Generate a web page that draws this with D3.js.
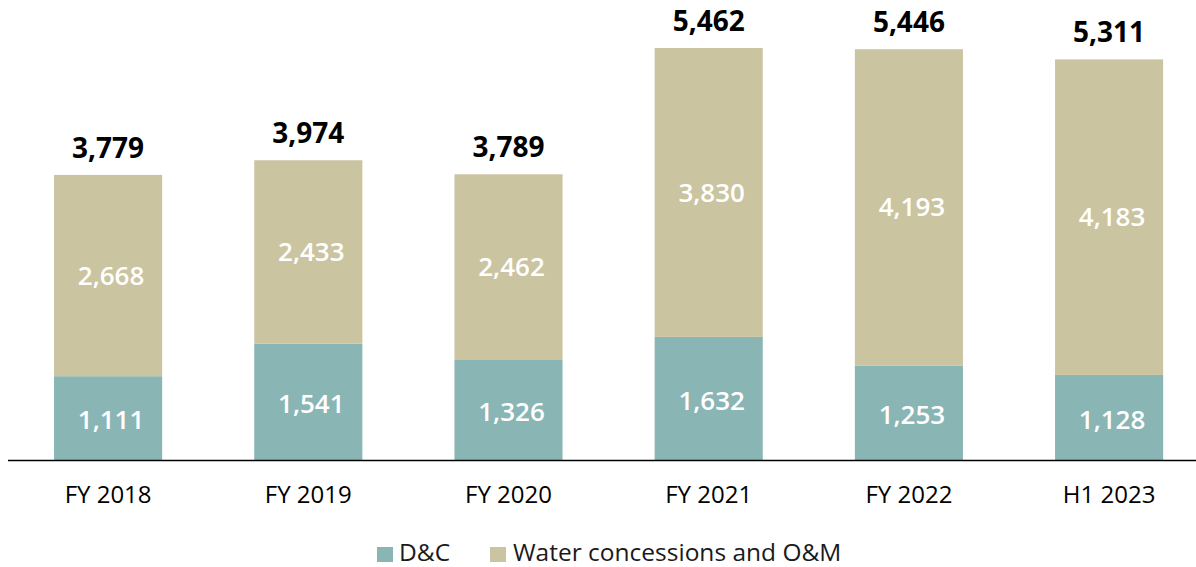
<!DOCTYPE html>
<html><head><meta charset="utf-8">
<script src="https://cdn.jsdelivr.net/npm/d3@7"></script>
<style>body{margin:0;background:#fff;}svg{display:block;}</style>
</head><body>
<svg id="chart" width="1196" height="567"></svg>
<script>
const categories = ["FY 2018","FY 2019","FY 2020","FY 2021","FY 2022","H1 2023"];
const dcValues = [1111,1541,1326,1632,1253,1128];
const waterValues = [2668,2433,2462,3830,4193,4183];
const totals = [3779,3974,3789,5462,5446,5311];
const seriesNames = ["D&C","Water concessions and O&M"];
const colors = ["#8AB5B5","#CBC4A1"];

const svg = d3.select("#chart");
const baseY = 460;
const x = d3.scaleBand().domain(categories).range([8, 8 + 200.2*6]).paddingInner(0.46).paddingOuter(0.23);
const y = d3.scaleLinear().domain([0, 5462]).range([baseY, 48]);
const fmt = d3.format(",");
const font = "'Open Sans', sans-serif";

const rows = categories.map((c,i)=>({cat:c, dc:dcValues[i], water:waterValues[i], total:totals[i]}));
const stack = d3.stack().keys(["dc","water"])(rows);

stack.forEach((layer,li)=>{
  svg.append("g").selectAll("rect").data(layer).join("rect")
    .attr("x", d=>x(d.data.cat))
    .attr("width", x.bandwidth())
    .attr("y", d=>y(d[1]))
    .attr("height", d=>y(d[0])-y(d[1]))
    .attr("fill", colors[li]);
  svg.append("g").selectAll("text").data(layer).join("text")
    .attr("x", d=>x(d.data.cat)+x.bandwidth()/2 + 3)
    .attr("y", d=>(y(d[0])+y(d[1]))/2 + (li===0?2:0))
    .attr("dy","0.35em")
    .attr("text-anchor","middle")
    .attr("font-family", font).attr("font-weight", 600).attr("font-size", 26)
    .attr("fill","#fff")
    .text(d=>fmt(d[1]-d[0]));
});

svg.append("g").selectAll("text").data(rows).join("text")
  .attr("x", d=>x(d.cat)+x.bandwidth()/2)
  .attr("y", d=>y(d.total)-17)
  .attr("text-anchor","middle")
  .attr("font-family", font).attr("font-weight", 700).attr("font-size", 28)
  .attr("fill","#000")
  .text(d=>fmt(d.total));

const axis = svg.append("g").attr("transform",`translate(0,${baseY})`)
  .call(d3.axisBottom(x).tickSize(0).tickPadding(26));
axis.select(".domain").attr("d","M8,0.5H1196").attr("stroke","#000").attr("stroke-width",1.3);
axis.selectAll("text").attr("font-family", font).attr("font-size", 24).attr("fill","#000");

const legend = svg.append("g");
const items = [{x:377, tx:399},{x:490, tx:513}];
seriesNames.forEach((n,i)=>{
  legend.append("rect").attr("x",items[i].x).attr("y",547).attr("width",16).attr("height",15).attr("fill",colors[i]);
  legend.append("text").attr("x",items[i].tx).attr("y",561)
    .attr("font-family", font).attr("font-size", 24.5).attr("fill","#1a1a1a").text(n);
});
</script>
</body></html>
